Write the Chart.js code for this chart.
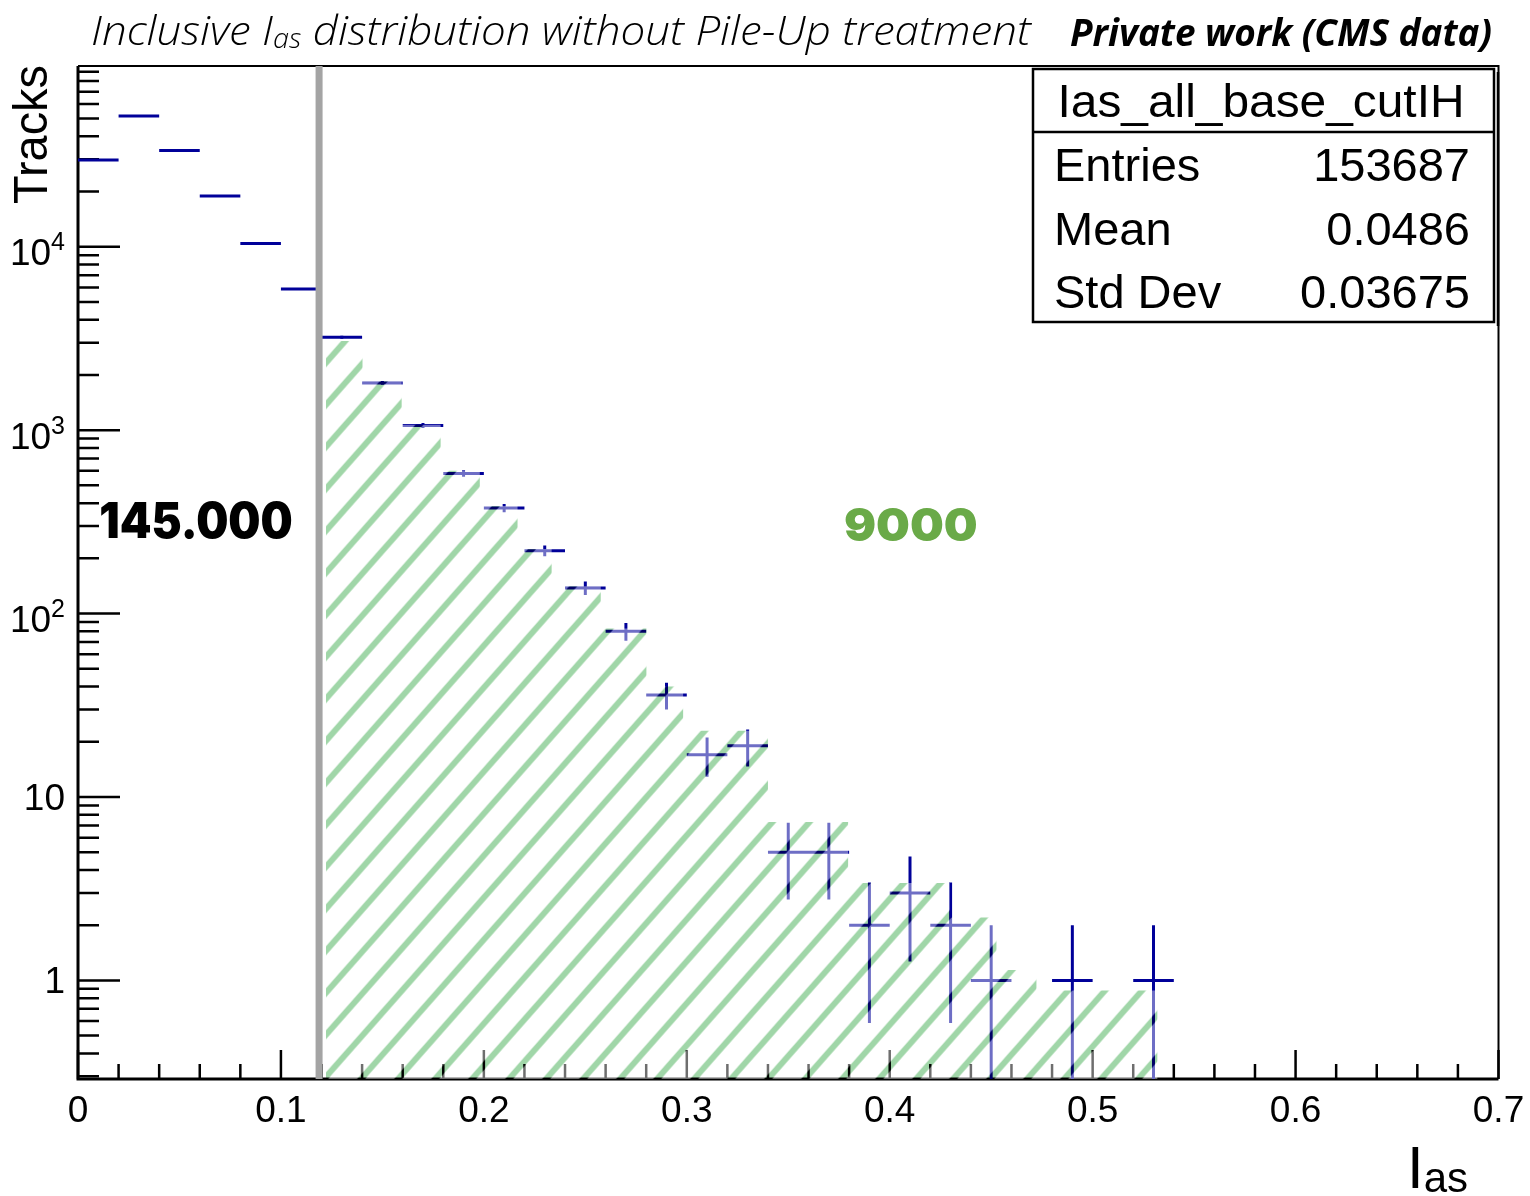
<!DOCTYPE html>
<html>
<head>
<meta charset="utf-8">
<script src="https://cdn.jsdelivr.net/npm/chart.js@4.4.1/dist/chart.umd.min.js"></script>
<style>
  html, body { margin: 0; padding: 0; background: #ffffff; }
  #wrap { width: 1530px; height: 1196px; }
</style>
</head>
<body>
<div id="wrap"><canvas id="c" width="1530" height="1196"></canvas></div>
<script>
// I_as distribution, bins of width 0.02
const binCenters = [0.01, 0.03, 0.05, 0.07, 0.09, 0.11, 0.13, 0.15, 0.17, 0.19, 0.21, 0.23, 0.25, 0.27,
                    0.29, 0.31, 0.33, 0.35, 0.37, 0.39, 0.41, 0.43, 0.45, 0.47, 0.49, 0.51, 0.53];
const trackCounts = [29700, 51600, 33500, 18900, 10400, 5880, 3210, 1810, 1060, 581, 376, 220, 138, 80,
                     36, 17, 19, 5, 5, 2, 3, 2, 1, 0, 1, 0, 1];
const binHalfWidth = 0.01;

// shaded region above the cut (step edges and levels)
const shadeEdges  = [0.1222, 0.1402, 0.1595, 0.1787, 0.1980, 0.2166, 0.2334, 0.2576, 0.2801, 0.2982,
                     0.3400, 0.3795, 0.4296, 0.4526, 0.4723, 0.5320];
const shadeLevels = [3060, 1850, 1070, 600, 386, 225, 141, 83, 40, 23, 7.3, 3.4, 2.2, 1.14, 0.88];

const cutValue = 0.1188;

// axes
const xRange = [0, 0.7];
const yRange = [0.29, 96700];
const xTickLabels = ['0', '0.1', '0.2', '0.3', '0.4', '0.5', '0.6', '0.7'];
const yDecades = [0, 1, 2, 3, 4];

// texts
const titleParts = ['Inclusive I', 'as', ' distribution without Pile-Up treatment'];
const workLabel = 'Private work (CMS data)';
const yTitle = 'Tracks';
const statsName = 'Ias_all_base_cutIH';
const statsKeys = ['Entries', 'Mean', 'Std Dev'];
const statsValues = ['153687', '0.0486', '0.03675'];
const countBelowCut = '145.000';
const countAboveCut = '9000';

const NAVY = '#000099';
const STRIPE_GREEN = 'rgb(160,214,168)';
const SANS = '"Liberation Sans", Arial, Helvetica, sans-serif';

// ---- datasets built from the arrays ----
const hBars = [], vBars = [];
binCenters.forEach((c, i) => {
  const n = trackCounts[i];
  if (n <= 0) return;
  const e = Math.sqrt(n);
  hBars.push({x: c - binHalfWidth, y: n}, {x: c + binHalfWidth, y: n}, {x: c + binHalfWidth, y: null});
  vBars.push({x: c, y: Math.max(n - e, yRange[0])}, {x: c, y: n + e}, {x: c, y: null});
});
const shadePts = shadeLevels.map((v, i) => ({x: shadeEdges[i], y: v}));
shadePts.push({x: shadeEdges[shadeEdges.length - 1], y: shadeLevels[shadeLevels.length - 1]});

// ---- hatch patterns ----
function hatchTile(kind) {
  const w = 37, h = 42;
  const c = document.createElement('canvas');
  c.width = w; c.height = h;
  const g = c.getContext('2d');
  if (kind === 'wash') {
    g.fillStyle = 'rgba(255,255,255,0.43)';
    g.fillRect(0, 0, w, h);
    g.globalCompositeOperation = 'destination-out';
    g.strokeStyle = '#000';
  } else {
    g.strokeStyle = STRIPE_GREEN;
  }
  g.lineWidth = 6;
  g.beginPath();
  for (let n = -1; n <= 3; n++) {
    g.moveTo(37 * n + 37, -42);
    g.lineTo(37 * n - 74, 84);
  }
  g.stroke();
  return c;
}
function hatchPattern(kind) {
  const ctx = document.getElementById('c').getContext('2d');
  const p = ctx.createPattern(hatchTile(kind), 'repeat');
  p.setTransform(new DOMMatrix([1, 0, 0, 1, 16.6, 0]));
  return p;
}

// ---- text helpers ----
function drawRuns(ctx, runs, x, y, align, width) {
  const ws = runs.map(r => { ctx.font = r.font; return ctx.measureText(r.t).width; });
  const total = ws.reduce((a, b) => a + b, 0);
  const s = width ? width / total : 1;
  const x0 = align === 'right' ? x - total * s : align === 'center' ? x - total * s / 2 : x;
  ctx.save();
  ctx.translate(x0, y);
  ctx.scale(s, 1);
  ctx.textAlign = 'left';
  ctx.textBaseline = 'alphabetic';
  let cx = 0;
  runs.forEach((r, i) => {
    ctx.font = r.font;
    ctx.fillStyle = r.color || '#000';
    ctx.fillText(r.t, cx, r.dy || 0);
    cx += ws[i];
  });
  ctx.restore();
}
function drawInk(ctx, t, font, color, xl, xr, baseline) {
  ctx.save();
  ctx.font = font;
  ctx.textAlign = 'left';
  ctx.textBaseline = 'alphabetic';
  const m = ctx.measureText(t);
  const ink = m.actualBoundingBoxLeft + m.actualBoundingBoxRight;
  const s = (xr - xl) / ink;
  ctx.translate(xl + m.actualBoundingBoxLeft * s, baseline);
  ctx.scale(s, 1);
  ctx.fillStyle = color;
  ctx.fillText(t, 0, 0);
  ctx.restore();
}

// ---- ROOT-like frame, ticks and annotations ----
function drawFrame(chart) {
  const {ctx, chartArea: a, scales: {x, y}} = chart;
  ctx.save();
  ctx.strokeStyle = '#000';
  ctx.lineWidth = 2.5;
  ctx.beginPath();
  for (let d = -1; d <= 4; d++) {
    for (let m = 1; m <= 9; m++) {
      const v = m * Math.pow(10, d);
      if (v < y.min || v > y.max) continue;
      const py = y.getPixelForValue(v);
      ctx.moveTo(a.left, py);
      ctx.lineTo(a.left + (m === 1 ? 42 : 21), py);
    }
  }
  for (let k = 0; k <= 35; k++) {
    const px = x.getPixelForValue(k * 0.02);
    ctx.moveTo(px, a.bottom);
    ctx.lineTo(px, a.bottom - (k % 5 === 0 ? 29 : 15));
  }
  ctx.stroke();
  ctx.lineWidth = 2;
  ctx.beginPath();
  ctx.moveTo(a.left, a.top); ctx.lineTo(a.right, a.top); ctx.lineTo(a.right, a.bottom);
  ctx.stroke();
  ctx.lineWidth = 3;
  ctx.beginPath();
  ctx.moveTo(a.left, a.top); ctx.lineTo(a.left, a.bottom); ctx.lineTo(a.right, a.bottom);
  ctx.stroke();
  ctx.restore();
}

function drawTexts(chart) {
  const {ctx, chartArea: a, scales: {x, y}} = chart;
  ctx.save();
  ctx.fillStyle = '#000';

  // y tick labels
  yDecades.forEach(d => {
    const py = y.getPixelForValue(Math.pow(10, d));
    if (d === 0) {
      drawRuns(ctx, [{t: '1', font: `37px ${SANS}`}], 65, py + 13, 'right');
    } else if (d === 1) {
      drawRuns(ctx, [{t: '10', font: `37px ${SANS}`}], 65, py + 13.5, 'right');
    } else {
      drawRuns(ctx, [{t: '10', font: `37px ${SANS}`}, {t: String(d), font: `25px ${SANS}`, dy: -15}],
               65, py + 18.5, 'right');
    }
  });

  // x tick labels
  xTickLabels.forEach((t, i) => {
    const px = x.getPixelForValue(i * 0.1);
    drawRuns(ctx, [{t, font: `37px ${SANS}`}], px, 1122, 'center');
  });

  // axis titles
  ctx.save();
  ctx.translate(47, 65);
  ctx.rotate(-Math.PI / 2);
  drawRuns(ctx, [{t: yTitle, font: `48px ${SANS}`}], 0, 0, 'right', 139);
  ctx.restore();
  drawRuns(ctx, [{t: 'I', font: `60px ${SANS}`}, {t: 'as', font: `42px ${SANS}`, dy: 4}], 1407, 1188, 'left');

  // header
  const tf = `italic 300 41px "Open Sans", "Liberation Sans", sans-serif`;
  const tfs = `italic 300 27px "Open Sans", "Liberation Sans", sans-serif`;
  drawRuns(ctx, [
    {t: titleParts[0], font: tf, color: '#000'},
    {t: titleParts[1], font: tfs, color: '#000', dy: 3},
    {t: titleParts[2], font: tf, color: '#000'}
  ], 91, 45, 'left', 940);
  drawRuns(ctx, [{t: workLabel, font: `italic bold 37px "Open Sans", "Liberation Sans", sans-serif`}],
           1492, 46, 'right', 422);

  // statistics box
  const bx0 = 1033, bx1 = 1494, by0 = 69, by1 = 322, sep = 132;
  ctx.fillStyle = '#fff';
  ctx.fillRect(bx0, by0, bx1 - bx0, by1 - by0);
  ctx.strokeStyle = '#000';
  ctx.lineWidth = 2.5;
  ctx.strokeRect(bx0, by0, bx1 - bx0, by1 - by0);
  ctx.beginPath();
  ctx.moveTo(bx0, sep); ctx.lineTo(bx1, sep);
  ctx.moveTo(bx1 + 4, by0 + 3); ctx.lineTo(bx1 + 4, by1 + 4);
  ctx.stroke();
  ctx.fillStyle = '#000';
  drawRuns(ctx, [{t: statsName, font: `47px ${SANS}`}], 1261, 117, 'center', 407);
  const baselines = [181, 245, 308];
  statsKeys.forEach((k, i) => {
    drawRuns(ctx, [{t: k, font: `47px ${SANS}`}], 1054, baselines[i], 'left');
    drawRuns(ctx, [{t: statsValues[i], font: `47px ${SANS}`}], 1470, baselines[i], 'right');
  });

  // region counts
  drawInk(ctx, countBelowCut, `900 49px Inter, Lato, sans-serif`, '#000', 101, 292, 538);
  drawInk(ctx, countAboveCut, `900 46px Inter, Lato, sans-serif`, '#6aaa48', 845, 977, 541);
  ctx.restore();
}

const rootStyle = {
  id: 'rootStyle',
  beforeDatasetsDraw(chart) { drawFrame(chart); },
  afterDatasetDraw(chart, args) {
    // stripes are blended onto the washed region
    if (args.index === 2) chart.ctx.globalCompositeOperation = 'multiply';
    if (args.index === 3) chart.ctx.globalCompositeOperation = 'source-over';
  },
  afterDatasetsDraw(chart) {
    const {ctx, chartArea: a, scales: {x}} = chart;
    ctx.save();
    ctx.globalCompositeOperation = 'source-over';
    const px = x.getPixelForValue(cutValue);
    ctx.strokeStyle = '#a4a4a4';
    ctx.lineWidth = 7;
    ctx.beginPath();
    ctx.moveTo(px, a.top); ctx.lineTo(px, a.bottom);
    ctx.stroke();
    ctx.restore();
  },
  afterDraw(chart) { drawTexts(chart); }
};

function build() {
  new Chart(document.getElementById('c'), {
    type: 'line',
    data: {
      datasets: [
        {label: 'bins', data: hBars, borderColor: NAVY, borderWidth: 3, pointRadius: 0, order: 4, spanGaps: false},
        {label: 'errors', data: vBars, borderColor: NAVY, borderWidth: 3, pointRadius: 0, order: 3, spanGaps: false},
        {label: 'shadeWash', data: shadePts, stepped: 'before', fill: 'start', backgroundColor: hatchPattern('wash'),
         borderColor: 'rgba(0,0,0,0)', borderWidth: 1, pointRadius: 0, order: 2},
        {label: 'shadeStripes', data: shadePts, stepped: 'before', fill: 'start', backgroundColor: hatchPattern('stripes'),
         borderColor: 'rgba(0,0,0,0)', borderWidth: 1, pointRadius: 0, order: 1}
      ]
    },
    options: {
      responsive: false,
      animation: false,
      devicePixelRatio: 1,
      layout: {padding: {left: 78, right: 31.5, top: 66, bottom: 117}},
      scales: {
        x: {type: 'linear', min: xRange[0], max: xRange[1], display: false},
        y: {type: 'logarithmic', min: yRange[0], max: yRange[1], display: false}
      },
      plugins: {legend: {display: false}, tooltip: {enabled: false}},
      elements: {line: {tension: 0}}
    },
    plugins: [rootStyle]
  });
}

const fontLoads = [
  'italic 300 41px "Open Sans"', 'italic bold 37px "Open Sans"', '900 49px Inter', '47px "Liberation Sans"'
].map(f => document.fonts.load(f).catch(() => null));
Promise.all(fontLoads).then(build, build);
</script>
</body>
</html>
